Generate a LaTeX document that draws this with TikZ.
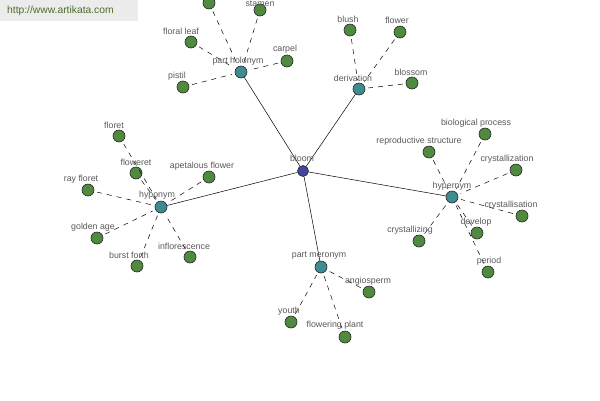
\documentclass[tikz,border=0pt]{standalone}
\usepackage{fontspec}
\setmainfont{Liberation Sans}
\begin{document}
\begin{tikzpicture}[x=1pt,y=-1pt,
  leaf/.style={circle,draw=black!85,line width=0.6pt,fill=leafgreen,minimum size=12pt,inner sep=0pt},
  hub/.style={circle,draw=black!85,line width=0.6pt,fill=hubteal,minimum size=12pt,inner sep=0pt},
  root/.style={circle,draw=black!85,line width=0.6pt,fill=rootblue,minimum size=11pt,inner sep=0pt},
  lbl/.style={text=labelgray,font=\fontsize{8.8}{10}\selectfont,inner sep=0pt},
  rel/.style={draw=black,line width=0.5pt},
  dsh/.style={draw=black,line width=0.5pt,dash pattern=on 5pt off 5pt,shorten <=3pt,shorten >=3pt}]
\definecolor{leafgreen}{HTML}{4F8A3F}
\definecolor{hubteal}{HTML}{3E8C90}
\definecolor{rootblue}{HTML}{45459E}
\definecolor{labelgray}{HTML}{5A5A5A}
\definecolor{wmbox}{HTML}{ECECEC}
\definecolor{wmtext}{HTML}{4C6E2C}
\useasboundingbox (0,0) rectangle (600,400);
\fill[white] (0,0) rectangle (600,400);
% watermark
\node[fill=wmbox,minimum width=138pt,minimum height=21pt,anchor=north west,inner sep=0pt] (wm) at (0,0) {};
\node[text=wmtext,font=\fontsize{10.3}{12}\selectfont,anchor=west,inner sep=0pt] (wmt) at (7,11) {http://www.artikata.com};
% hubs positions
\coordinate (pB) at (303,171);
\coordinate (pPH) at (241,72);
\coordinate (pDE) at (359,89);
\coordinate (pHY) at (161,207);
\coordinate (pHE) at (452,197);
\coordinate (pPM) at (321,267);
% leaves
\node[leaf] (l1) at (209,3) {};
\node[leaf] (stamen) at (260,10) {};
\node[leaf] (floral) at (191,42) {};
\node[leaf] (carpel) at (287,61) {};
\node[leaf] (pistil) at (183,87) {};
\node[leaf] (blush) at (350,30) {};
\node[leaf] (flower) at (400,32) {};
\node[leaf] (blossom) at (412,83) {};
\node[leaf] (floret) at (119,136) {};
\node[leaf] (floweret) at (136,173) {};
\node[leaf] (apetalous) at (209,177) {};
\node[leaf] (ray) at (88,190) {};
\node[leaf] (golden) at (97,238) {};
\node[leaf] (burst) at (137,266) {};
\node[leaf] (infl) at (190,257) {};
\node[leaf] (bio) at (485,134) {};
\node[leaf] (repro) at (429,152) {};
\node[leaf] (cryz) at (516,170) {};
\node[leaf] (crys) at (522,216) {};
\node[leaf] (develop) at (477,233) {};
\node[leaf] (cryzing) at (419,241) {};
\node[leaf] (period) at (488,272) {};
\node[leaf] (angio) at (369,292) {};
\node[leaf] (youth) at (291,322) {};
\node[leaf] (flplant) at (345,337) {};
% hubs
\node[hub] (ph) at (pPH) {};
\node[hub] (de) at (pDE) {};
\node[hub] (hy) at (pHY) {};
\node[hub] (he) at (pHE) {};
\node[hub] (pm) at (pPM) {};
\node[root] (b) at (pB) {};
% connectors
\draw[rel] (b) -- (ph);
\draw[rel] (b) -- (de);
\draw[rel] (b) -- (hy);
\draw[rel] (b) -- (he);
\draw[rel] (b) -- (pm);
\foreach \n in {l1,stamen,floral,carpel,pistil} \draw[dsh] (\n) -- (ph);
\foreach \n in {blush,flower,blossom} \draw[dsh] (\n) -- (de);
\foreach \n in {floret,floweret,apetalous,ray,golden,burst,infl} \draw[dsh] (\n) -- (hy);
\foreach \n in {bio,repro,cryz,crys,develop,cryzing,period} \draw[dsh] (\n) -- (he);
\foreach \n in {angio,youth,flplant} \draw[dsh] (\n) -- (pm);
% labels
\node[lbl] (tb) at (302,158) {bloom};
\node[lbl] (tph) at (238,61) {part holonym};
\node[lbl] (tde) at (353,78) {derivation};
\node[lbl] (thy) at (157,195) {hyponym};
\node[lbl] (the) at (452,186) {hypernym};
\node[lbl] (tpm) at (319,256) {part meronym};
\node[lbl] (tstamen) at (260,3.8) {stamen};
\node[lbl] (tfloral) at (181,31) {floral leaf};
\node[lbl] (tcarpel) at (285,49) {carpel};
\node[lbl] (tpistil) at (177,76) {pistil};
\node[lbl] (tblush) at (348,19) {blush};
\node[lbl] (tflower) at (397,20) {flower};
\node[lbl] (tblossom) at (411,72) {blossom};
\node[lbl] (tfloret) at (114,125) {floret};
\node[lbl] (tfloweret) at (136,162) {floweret};
\node[lbl] (tapet) at (202,166) {apetalous flower};
\node[lbl] (tray) at (81,179) {ray floret};
\node[lbl] (tgolden) at (93,227) {golden age};
\node[lbl] (tburst) at (129,255) {burst forth};
\node[lbl] (tinfl) at (184,246) {inflorescence};
\node[lbl] (tbio) at (476,123) {biological process};
\node[lbl] (trepro) at (419,141) {reproductive structure};
\node[lbl] (tcryz) at (507,159) {crystallization};
\node[lbl] (tcrys) at (511,205) {crystallisation};
\node[lbl] (tdevelop) at (476,222) {develop};
\node[lbl] (tcryzing) at (410,230) {crystallizing};
\node[lbl] (tperiod) at (489,261) {period};
\node[lbl] (tangio) at (368,281) {angiosperm};
\node[lbl] (tyouth) at (289,311) {youth};
\node[lbl] (tflplant) at (335,325) {flowering plant};
\end{tikzpicture}
\end{document}
